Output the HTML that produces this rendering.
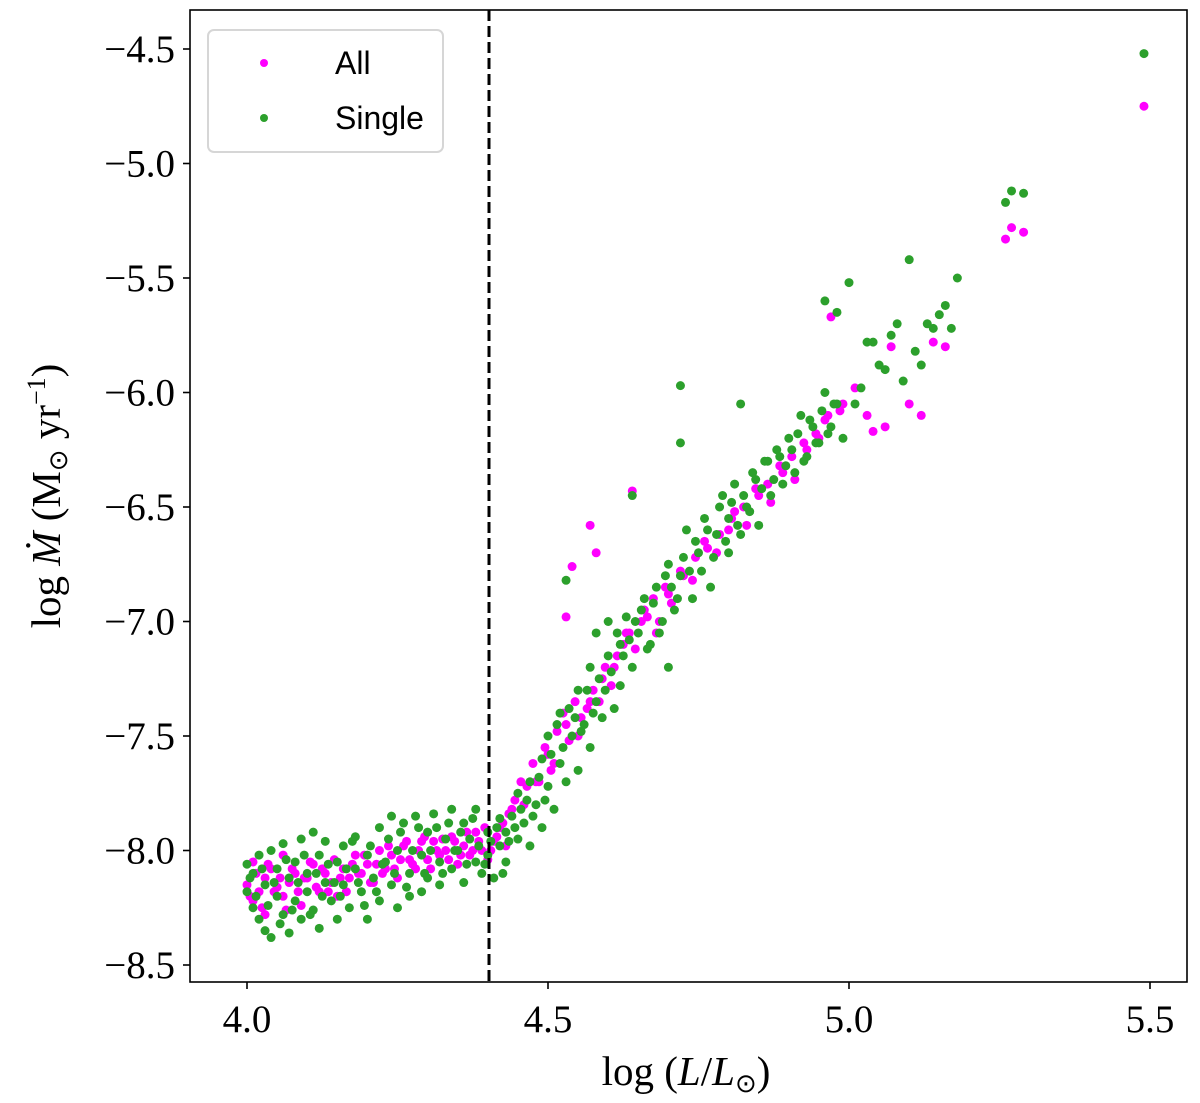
<!DOCTYPE html>
<html><head><meta charset="utf-8"><style>
html,body{margin:0;padding:0;background:#fff;}
svg{display:block;font-family:"Liberation Serif",serif;}
</style></head><body>
<svg id="chart" width="1200" height="1103" viewBox="0 0 1200 1103">
<g id="pts"></g>
<line x1="489" y1="10" x2="489" y2="982" stroke="#000" stroke-width="3" stroke-dasharray="11,5"/>
<rect x="190" y="10" width="997" height="972" fill="none" stroke="#000" stroke-width="1.6"/>
<g id="axes"></g>
<g>
<rect x="208" y="30" width="235" height="122" rx="6" fill="#fff" fill-opacity="0.85" stroke="#d6d6d6" stroke-width="2"/>
<circle cx="264" cy="63" r="4" fill="#ff00ff"/>
<text x="335" y="74" font-family="Liberation Sans, sans-serif" font-size="32">All</text>
<circle cx="264" cy="118" r="4" fill="#2ca02c"/>
<text x="335" y="129" font-family="Liberation Sans, sans-serif" font-size="32">Single</text>
</g>
<text x="686" y="1085" text-anchor="middle" font-size="41">log (<tspan font-style="italic">L</tspan>/<tspan font-style="italic">L</tspan><tspan font-size="26" dy="7">⊙</tspan><tspan dy="-7">)</tspan></text>
<text transform="translate(60,496) rotate(-90)" text-anchor="middle" font-size="41">log <tspan font-style="italic">Ṁ</tspan> (M<tspan font-size="26" dy="7">⊙</tspan><tspan dy="-7"> yr</tspan><tspan font-size="26" dy="-15">−1</tspan><tspan dy="15">)</tspan></text>
</svg>
<script>
const xTicks=[4.0,4.5,5.0,5.5];
const xTickLabels=["4.0","4.5","5.0","5.5"];
const yTicks=[-4.5,-5.0,-5.5,-6.0,-6.5,-7.0,-7.5,-8.0,-8.5];
const yTickLabels=["−4.5","−5.0","−5.5","−6.0","−6.5","−7.0","−7.5","−8.0","−8.5"];
const singleL=[4.00,4.00,4.01,4.01,4.02,4.02,4.03,4.03,4.04,4.04,4.05,4.05,4.06,4.06,4.07,4.07,4.08,4.08,4.09,4.09,4.10,4.10,4.11,4.11,4.12,4.12,4.13,4.13,4.14,4.15,4.15,4.16,4.16,4.17,4.18,4.18,4.19,4.20,4.20,4.21,4.22,4.22,4.23,4.24,4.24,4.25,4.25,4.26,4.27,4.27,4.28,4.29,4.29,4.30,4.30,4.31,4.32,4.32,4.33,4.34,4.34,4.35,4.36,4.36,4.37,4.38,4.38,4.39,4.40,4.40,4.41,4.42,4.42,4.43,4.43,
4.44,4.45,4.45,4.46,4.47,4.47,4.48,4.49,4.49,4.50,4.50,4.51,4.52,4.52,4.53,4.53,4.54,4.55,4.55,4.56,4.57,4.57,4.58,4.58,4.59,4.60,4.60,4.61,4.62,4.62,4.63,4.64,4.64,4.65,4.66,4.67,4.68,4.69,4.70,4.70,4.71,4.72,4.72,4.72,4.73,4.74,4.75,4.76,4.77,4.78,4.79,4.80,4.80,4.81,4.82,4.82,4.83,4.84,4.85,4.86,4.87,4.88,4.89,4.90,4.91,4.92,4.93,4.94,4.95,4.96,4.96,4.97,4.98,4.98,4.99,5.00,5.01,5.02,5.04,5.05,5.06,5.08,5.09,5.10,5.11,5.12,5.14,5.16,5.17,5.18,5.26,5.27,5.29,5.49,
4.005,4.015,4.025,4.035,4.045,4.055,4.065,4.075,4.085,4.095,4.105,4.115,4.125,4.135,4.145,4.155,4.165,4.175,4.185,4.195,4.205,4.215,4.225,4.235,4.245,4.255,4.265,4.275,4.285,4.295,4.305,4.315,4.325,4.335,4.345,4.355,4.365,4.375,4.385,4.395,4.405,4.415,4.425,4.435,
4.445,4.455,4.465,4.475,4.485,4.495,4.505,4.515,4.525,4.535,4.545,4.555,4.565,4.575,4.585,4.595,4.605,4.615,4.625,4.635,4.645,4.655,4.665,4.675,4.685,4.695,4.705,4.715,4.725,4.735,4.745,4.755,4.765,4.775,4.785,4.795,4.805,4.815,4.825,4.835,4.845,4.855,4.865,4.875,4.885,4.895,4.905,4.915,4.925,4.935,4.945,4.955,4.965,4.975,5.03,5.07,5.13,5.15];
const singleM=[-8.06,-8.18,-8.25,-8.10,-8.30,-8.02,-8.15,-8.35,-8.38,-8.00,-8.20,-8.08,-8.28,-7.97,-8.12,-8.36,-8.05,-8.22,-7.95,-8.30,-8.10,-8.18,-7.92,-8.26,-8.02,-8.34,-8.14,-7.96,-8.22,-8.05,-8.30,-7.98,-8.15,-8.25,-8.08,-7.94,-8.18,-8.02,-8.30,-8.12,-7.90,-8.22,-8.05,-7.85,-8.15,-8.00,-8.25,-7.88,-8.10,-8.20,-7.85,-8.02,-8.18,-7.92,-8.12,-7.84,-8.05,-8.15,-7.95,-7.82,-8.08,-8.00,-7.88,-8.14,-7.95,-8.05,-7.82,-8.10,-7.92,-8.02,-8.12,-7.98,-7.86,-8.05,-7.92,
-7.85,-7.95,-7.75,-7.88,-7.70,-7.98,-7.80,-7.60,-7.90,-7.72,-7.50,-7.82,-7.62,-7.40,-7.70,-6.82,-7.50,-7.30,-7.65,-7.45,-7.20,-7.55,-7.35,-7.05,-7.42,-7.15,-7.00,-7.38,-7.10,-7.28,-6.98,-7.20,-6.45,-7.05,-6.90,-7.10,-6.85,-7.00,-6.75,-7.20,-6.95,-6.80,-5.97,-6.22,-6.60,-6.90,-6.70,-6.55,-6.85,-6.62,-6.45,-6.70,-6.55,-6.40,-6.62,-6.05,-6.50,-6.35,-6.58,-6.30,-6.45,-6.25,-6.40,-6.20,-6.35,-6.10,-6.28,-6.15,-6.22,-6.00,-5.60,-6.15,-6.05,-5.65,-6.20,-5.52,-6.05,-5.98,-5.78,-5.88,-5.90,-5.70,-5.95,-5.42,-5.82,-5.88,-5.72,-5.62,-5.72,-5.50,-5.17,-5.12,-5.13,-4.52,
-8.12,-8.20,-8.08,-8.24,-8.14,-8.32,-8.04,-8.26,-8.14,-8.02,-8.28,-8.10,-8.20,-8.06,-8.14,-8.20,-8.08,-7.96,-8.14,-8.24,-7.98,-8.18,-8.06,-7.95,-8.10,-7.92,-8.16,-8.00,-7.90,-8.10,-8.00,-7.90,-8.10,-7.88,-8.00,-7.92,-8.06,-7.86,-7.98,-8.06,-7.96,-7.90,-8.10,-7.96,
-7.90,-7.82,-7.78,-7.85,-7.68,-7.78,-7.58,-7.45,-7.55,-7.38,-7.42,-7.48,-7.30,-7.40,-7.25,-7.30,-7.22,-7.05,-7.15,-7.08,-7.00,-6.95,-7.12,-6.92,-7.05,-6.80,-6.85,-6.90,-6.72,-6.78,-6.65,-6.78,-6.60,-6.72,-6.50,-6.65,-6.48,-6.58,-6.45,-6.52,-6.38,-6.42,-6.30,-6.38,-6.28,-6.32,-6.25,-6.18,-6.30,-6.12,-6.22,-6.08,-6.18,-6.05,-5.78,-5.75,-5.70,-5.66];
const allL=[4.00,4.01,4.01,4.02,4.03,4.03,4.04,4.05,4.06,4.06,4.07,4.08,4.09,4.10,4.11,4.12,4.13,4.14,4.15,4.16,4.17,4.18,4.19,4.20,4.21,4.22,4.23,4.24,4.25,4.26,4.27,4.28,4.29,4.30,4.31,4.32,4.33,4.34,4.35,4.36,4.37,4.38,4.39,4.40,4.41,4.42,4.43,
4.44,4.46,4.48,4.50,4.51,4.53,4.53,4.54,4.55,4.57,4.57,4.58,4.59,4.61,4.63,4.64,4.66,4.68,4.70,4.72,4.74,4.76,4.78,4.80,4.81,4.83,4.85,4.87,4.89,4.91,4.93,4.95,4.96,4.97,4.99,5.01,5.03,5.04,5.06,5.07,5.10,5.12,5.14,5.16,5.26,5.27,5.29,5.49,
4.005,4.015,4.025,4.035,4.045,4.055,4.065,4.075,4.085,4.095,4.105,4.115,4.125,4.135,4.145,4.155,4.165,4.175,4.185,4.195,4.205,4.215,4.225,4.235,4.245,4.255,4.265,4.275,4.285,4.295,4.305,4.315,4.325,4.335,4.345,4.355,4.365,4.375,4.385,4.395,4.405,4.415,4.425,4.435,
4.445,4.455,4.465,4.475,4.485,4.495,4.505,4.515,4.525,4.535,4.545,4.555,4.565,4.575,4.585,4.595,4.605,4.615,4.625,4.635,4.645,4.655,4.665,4.675,4.685,4.695,4.705,4.725,4.745,4.765,4.785,4.805,4.825,4.845,4.865,4.885,4.905,4.925,4.945,4.965,4.985];
const allM=[-8.15,-8.22,-8.05,-8.18,-8.12,-8.28,-8.08,-8.16,-8.20,-8.02,-8.14,-8.10,-8.24,-8.12,-8.06,-8.18,-8.10,-8.14,-8.20,-8.08,-8.12,-8.02,-8.10,-8.06,-8.14,-8.00,-8.08,-8.02,-8.12,-7.98,-8.04,-8.08,-7.96,-8.04,-7.96,-8.02,-8.00,-7.94,-8.06,-7.98,-8.02,-7.92,-8.00,-8.04,-7.96,-7.90,-7.98,
-7.82,-7.80,-7.70,-7.58,-7.62,-7.45,-6.98,-6.76,-7.50,-6.58,-7.35,-6.70,-7.25,-7.20,-7.05,-6.43,-6.95,-7.05,-6.88,-6.78,-6.82,-6.65,-6.70,-6.60,-6.52,-6.58,-6.45,-6.48,-6.35,-6.38,-6.25,-6.20,-6.12,-5.67,-6.05,-5.98,-6.10,-6.17,-6.15,-5.80,-6.05,-6.10,-5.78,-5.80,-5.33,-5.28,-5.30,-4.75,
-8.20,-8.10,-8.25,-8.06,-8.18,-8.12,-8.26,-8.08,-8.18,-8.12,-8.05,-8.16,-8.08,-8.18,-8.04,-8.12,-8.18,-8.06,-8.10,-8.02,-8.14,-8.06,-8.10,-7.98,-8.08,-8.04,-7.96,-8.06,-8.00,-7.94,-8.08,-8.00,-7.95,-8.04,-7.96,-8.02,-7.92,-8.00,-7.96,-7.90,-8.00,-7.94,-7.88,-7.84,
-7.78,-7.70,-7.72,-7.62,-7.70,-7.55,-7.65,-7.48,-7.40,-7.52,-7.35,-7.42,-7.38,-7.30,-7.35,-7.20,-7.28,-7.15,-7.10,-7.05,-7.12,-7.00,-6.98,-6.90,-7.00,-6.85,-6.92,-6.80,-6.72,-6.68,-6.62,-6.55,-6.50,-6.42,-6.40,-6.32,-6.28,-6.22,-6.18,-6.10,-6.08];
const NS="http://www.w3.org/2000/svg";
function xs(v){return 247+(v-4.0)*602;}
function ys(v){return 49+(-4.5-v)*229;}
const pts=document.getElementById('pts'), axes=document.getElementById('axes');
function dot(l,m,c,name){
  const e=document.createElementNS(NS,'circle');
  e.setAttribute('cx',xs(l));e.setAttribute('cy',ys(m));e.setAttribute('r',4.5);e.setAttribute('fill',c);
  
  
  pts.appendChild(e);
}
allL.forEach((l,i)=>dot(l,allM[i],'#ff00ff','all-point'));
singleL.forEach((l,i)=>dot(l,singleM[i],'#2ca02c','single-point'));
xTicks.forEach((t,i)=>{
  const x=xs(t);
  const ln=document.createElementNS(NS,'line');
  ln.setAttribute('x1',x);ln.setAttribute('x2',x);ln.setAttribute('y1',982);ln.setAttribute('y2',989);ln.setAttribute('stroke','#000');ln.setAttribute('stroke-width',1.6);
  
  
  axes.appendChild(ln);
  const tx=document.createElementNS(NS,'text');
  tx.setAttribute('x',x);tx.setAttribute('y',1032);tx.setAttribute('text-anchor','middle');tx.setAttribute('font-size',39);
  tx.textContent=xTickLabels[i];
  
  
  axes.appendChild(tx);
});
yTicks.forEach((t,i)=>{
  const y=ys(t);
  const ln=document.createElementNS(NS,'line');
  ln.setAttribute('x1',183);ln.setAttribute('x2',190);ln.setAttribute('y1',y);ln.setAttribute('y2',y);ln.setAttribute('stroke','#000');ln.setAttribute('stroke-width',1.6);
  
  
  axes.appendChild(ln);
  const tx=document.createElementNS(NS,'text');
  tx.setAttribute('x',175);tx.setAttribute('y',y+13);tx.setAttribute('text-anchor','end');tx.setAttribute('font-size',39);
  tx.textContent=yTickLabels[i];
  
  
  axes.appendChild(tx);
});
</script>
</body></html>
